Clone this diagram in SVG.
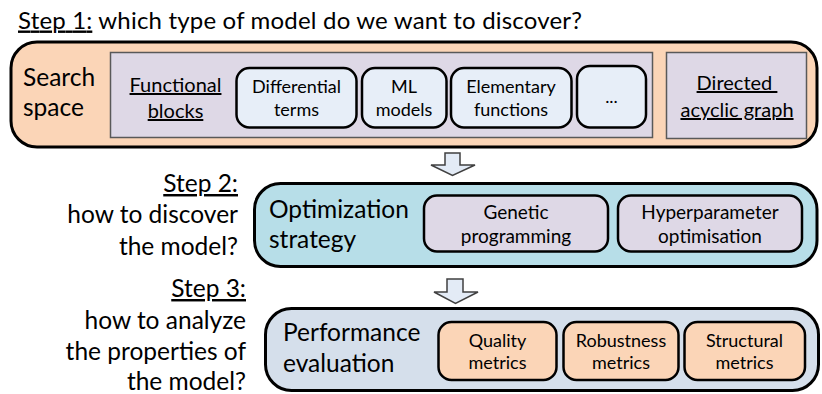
<svg xmlns="http://www.w3.org/2000/svg" width="822" height="394" viewBox="0 0 822 394">
<style>
text { font-family: Lato, "Liberation Sans", sans-serif; fill: #000; }
.big { font-size: 24.5px; }
.title { font-size: 24px; }
.side { font-size: 24.5px; }
.small { font-size: 18px; text-anchor: middle; }
.gp { font-size: 19px; text-anchor: middle; }
.mid { font-size: 20px; text-anchor: middle; }
.u { text-decoration: underline; }
.outer { stroke: #000; stroke-width: 3; }
.chip { stroke: #000; stroke-width: 2.5; }
.panel { fill: #DED8E6; stroke: #595959; stroke-width: 1.5; }
.arrow { fill: #E3EBF6; stroke: #404040; stroke-width: 1.5; }
</style>

<text class="title" x="18" y="28.5" textLength="564"><tspan class="u">Step 1:</tspan> which type of model do we want to discover?</text>

<g id="search-space">
  <rect class="outer" x="11" y="42" width="806" height="105" rx="26" fill="#FBD5B7"/>
  <text class="big" x="23" y="86">Search</text>
  <text class="big" x="23" y="116">space</text>
</g>

<g id="functional-blocks">
  <rect class="panel" x="110.5" y="52.5" width="542" height="85"/>
  <text class="mid u" x="175.5" y="92">Functional</text>
  <text class="mid u" x="175.5" y="118">blocks</text>
</g>

<g id="differential-terms">
  <rect class="chip" x="236.5" y="68" width="120" height="59.5" rx="13" fill="#E7EEF8"/>
  <text class="small" x="296.5" y="93">Differential</text>
  <text class="small" x="296.5" y="116">terms</text>
</g>

<g id="ml-models">
  <rect class="chip" x="362" y="68" width="84.5" height="59.5" rx="13" fill="#E7EEF8"/>
  <text class="small" x="404" y="93">ML</text>
  <text class="small" x="404" y="116">models</text>
</g>

<g id="elementary-functions">
  <rect class="chip" x="451" y="68" width="120.5" height="59.5" rx="13" fill="#E7EEF8"/>
  <text class="small" x="511" y="93">Elementary</text>
  <text class="small" x="511" y="116">functions</text>
</g>

<g id="more">
  <rect class="chip" x="577" y="66" width="69" height="61.5" rx="13" fill="#E7EEF8"/>
  <text class="small" x="611.5" y="103">...</text>
</g>

<g id="dag">
  <rect class="panel" x="666.5" y="52.5" width="140" height="86"/>
  <text class="mid u" x="737" y="90" xml:space="preserve">Directed </text>
  <text class="mid u" x="737" y="117">acyclic graph</text>
</g>

<g id="step2-label">
  <text class="side u" x="238" y="192" text-anchor="end">Step 2:</text>
  <text class="side" x="238" y="223" text-anchor="end">how to discover</text>
  <text class="side" x="238" y="255" text-anchor="end">the model?</text>
</g>

<g id="optimization-strategy">
  <rect class="outer" x="254.5" y="183.5" width="562.5" height="83" rx="26" fill="#B7DEE8"/>
  <text class="big" x="269" y="218">Optimization</text>
  <text class="big" x="269" y="248">strategy</text>
</g>

<g id="genetic-programming">
  <rect class="chip" x="424" y="195.5" width="184" height="56" rx="13" fill="#DED8E6"/>
  <text class="gp" x="516" y="219">Genetic</text>
  <text class="gp" x="516" y="243">programming</text>
</g>

<g id="hyperparameter-optimisation">
  <rect class="chip" x="618" y="195.5" width="184" height="56" rx="13" fill="#DED8E6"/>
  <text class="gp" x="710" y="219">Hyperparameter</text>
  <text class="gp" x="710" y="243">optimisation</text>
</g>

<g id="step3-label">
  <text class="side u" x="246" y="297" text-anchor="end">Step 3:</text>
  <text class="side" x="246" y="329" text-anchor="end">how to analyze</text>
  <text class="side" x="246" y="360" text-anchor="end">the properties of</text>
  <text class="side" x="246" y="390" text-anchor="end">the model?</text>
</g>

<g id="performance-evaluation">
  <rect class="outer" x="265.5" y="308.5" width="553" height="82" rx="26" fill="#D5DFEB"/>
  <text class="big" x="283" y="341">Performance</text>
  <text class="big" x="283" y="372">evaluation</text>
</g>

<g id="quality-metrics">
  <rect class="chip" x="438.5" y="322" width="118" height="58" rx="13" fill="#FBD5B7"/>
  <text class="small" x="497.5" y="347">Quality</text>
  <text class="small" x="497.5" y="369">metrics</text>
</g>

<g id="robustness-metrics">
  <rect class="chip" x="563.5" y="322" width="115" height="58" rx="13" fill="#FBD5B7"/>
  <text class="small" x="621" y="347">Robustness</text>
  <text class="small" x="621" y="369">metrics</text>
</g>

<g id="structural-metrics">
  <rect class="chip" x="684.5" y="322" width="120.5" height="58" rx="13" fill="#FBD5B7"/>
  <text class="small" x="744.5" y="347">Structural</text>
  <text class="small" x="744.5" y="369">metrics</text>
</g>

<g id="connectors">
  <polygon class="arrow" points="445,153 460,153 460,165 475,165 452.5,175.5 431,165 445,165"/>
  <polygon class="arrow" points="447,279 463,279 463,292 478,292 455.5,303.5 434,292 447,292"/>
</g>
</svg>
